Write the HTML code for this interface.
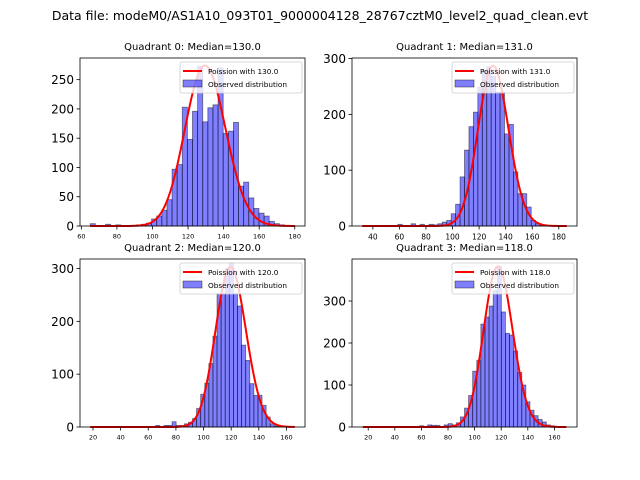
<!DOCTYPE html>
<html><head><meta charset="utf-8"><style>
body{margin:0;background:#fff;}
svg{display:block;font-family:"DejaVu Sans","Liberation Sans",sans-serif;}
</style></head><body>
<svg id="fig" width="640" height="480" viewBox="0 0 640 480">
<rect width="640" height="480" fill="#fff"/>
<text x="320" y="20" font-size="12.5" text-anchor="middle">Data file: modeM0/AS1A10_093T01_9000004128_28767cztM0_level2_quad_clean.evt</text>
</svg>
<script>
const q0Counts=[4,1,0,3,1,2,1,1,1,2,3,5,12,17,27,45,97,105,203,148,196,273,178,202,207,270,158,162,177,68,75,48,30,22,17,8,4,2,1,1];
const q0Range=[65,180];
const q0Mu=130, q0CurvePeak=274;
const q1Counts=[0,0,0,0,0,0,0,0,3,1,1,4,1,3,1,3,2,4,7,10,22,39,88,136,178,204,249,279,285,268,240,240,165,182,97,58,58,34,10,4,2,1,1,0,1,0];
const q1Range=[32,186];
const q1Mu=131, q1CurvePeak=287;
const q2Counts=[0,0,0,0,0,0,0,0,0,0,0,0,0,0,0,0,3,0,3,3,10,3,3,6,9,16,35,62,83,120,172,253,253,300,310,253,229,155,126,82,60,60,41,19,6,2,1,0,0,0];
const q2Range=[18,166];
const q2Mu=120, q2CurvePeak=303;
const q3Counts=[0,0,0,0,0,0,0,0,0,0,0,0,0,0,3,0,5,4,4,0,5,8,5,10,24,45,75,133,159,245,262,288,325,383,274,223,219,181,130,100,60,40,27,18,12,5,3,1,0,0];
const q3Range=[15.5,169.3];
const q3Mu=118, q3CurvePeak=382;
const q0YTicks=[0,50,100,150,200,250], q0XTicks=[60,80,100,120,140,160,180];
const q1YTicks=[0,100,200,300], q1XTicks=[40,60,80,100,120,140,160,180];
const q2YTicks=[0,100,200,300], q2XTicks=[20,40,60,80,100,120,140,160];
const q3YTicks=[0,100,200,300], q3XTicks=[20,40,60,80,100,120,140,160];

const NS="http://www.w3.org/2000/svg";
const svg=document.getElementById('fig');
function mk(tag,attrs,parent){const e=document.createElementNS(NS,tag);for(const k in attrs)e.setAttribute(k,attrs[k]);(parent||svg).appendChild(e);return e;}
function lgamma(x){return (x-0.5)*Math.log(x)-x+0.5*Math.log(2*Math.PI)+1/(12*x)-1/(360*x*x*x);}
function pmf(k,mu){return Math.exp(k*Math.log(mu)-mu-lgamma(k+1));}

function drawPanel(idx,box,counts,range,mu,peak,xticks,yticks,ymax,xfs,title){
  const g=mk('g',{});
  
  
  const R=range[1]-range[0], xmin=range[0]-0.05*R, xmax=range[1]+0.05*R;
  const X=v=>box.l+(v-xmin)/(xmax-xmin)*(box.r-box.l);
  const Y=v=>box.b-v/ymax*(box.b-box.t);
  const bw=R/counts.length;
  counts.forEach((c,i)=>{
    const x0=X(range[0]+i*bw), x1=X(range[0]+(i+1)*bw);
    const r=mk('rect',{x:x0,y:Y(c),width:x1-x0,height:Y(0)-Y(c),fill:'rgba(0,0,255,0.5)',stroke:'rgba(0,0,0,0.5)','stroke-width':0.8},g);
    
    
  });
  let mx=0;const ks=[];
  for(let k=Math.ceil(range[0]);k<=Math.floor(range[1]);k++){const p=pmf(k,mu);ks.push([k,p]);if(p>mx)mx=p;}
  const pts=ks.map(([k,p])=>X(k).toFixed(2)+','+Y(p/mx*peak).toFixed(2)).join(' ');
  const pl=mk('polyline',{points:pts,fill:'none',stroke:'#ff0000','stroke-width':2,'stroke-linejoin':'round'},g);
  
  
  const fr=mk('rect',{x:box.l,y:box.t,width:box.r-box.l,height:box.b-box.t,fill:'none',stroke:'#000','stroke-width':0.8},g);
  
  
  xticks.forEach(v=>{
    mk('line',{x1:X(v),x2:X(v),y1:box.b,y2:box.b+3.5,stroke:'#000','stroke-width':0.8},g);
    const t=mk('text',{x:X(v),y:box.b+6+xfs,'font-size':xfs,'text-anchor':'middle'},g);
    t.textContent=v;
    
    
  });
  yticks.forEach(v=>{
    mk('line',{x1:box.l-3.5,x2:box.l,y1:Y(v),y2:Y(v),stroke:'#000','stroke-width':0.8},g);
    const t=mk('text',{x:box.l-6,y:Y(v)+4.5,'font-size':12,'text-anchor':'end'},g);
    t.textContent=v;
    
    
  });
  const tt=mk('text',{x:(box.l+box.r)/2,y:box.t-8,'font-size':10,'text-anchor':'middle'},g);
  tt.textContent=title;
  
  
  const lg=mk('g',{},g);
  
  
  const lx=box.r-125, ly=box.t+4;
  mk('rect',{x:lx,y:ly,width:122,height:31,fill:'rgba(255,255,255,0.8)',stroke:'#ccc','stroke-width':0.8,rx:2},lg);
  mk('line',{x1:lx+3,x2:lx+22,y1:ly+9,y2:ly+9,stroke:'#ff0000','stroke-width':2},lg);
  mk('rect',{x:lx+3,y:ly+18,width:19,height:7,fill:'rgba(0,0,255,0.5)',stroke:'rgba(0,0,0,0.5)','stroke-width':0.8},lg);
  const t1=mk('text',{x:lx+28,y:ly+12,'font-size':7.3},lg);t1.textContent='Poission with '+mu.toFixed(1);
  
  
  const t2=mk('text',{x:lx+28,y:ly+25,'font-size':7.3},lg);t2.textContent='Observed distribution';
  
  
}
drawPanel(0,{l:80,r:305,t:58,b:226},q0Counts,q0Range,q0Mu,q0CurvePeak,q0XTicks,q0YTicks,287,6.5,'Quadrant 0: Median=130.0');
drawPanel(1,{l:352,r:577,t:58,b:226},q1Counts,q1Range,q1Mu,q1CurvePeak,q1XTicks,q1YTicks,301,7.5,'Quadrant 1: Median=131.0');
drawPanel(2,{l:80,r:305,t:259,b:427},q2Counts,q2Range,q2Mu,q2CurvePeak,q2XTicks,q2YTicks,318,6.5,'Quadrant 2: Median=120.0');
drawPanel(3,{l:352,r:577,t:259,b:427},q3Counts,q3Range,q3Mu,q3CurvePeak,q3XTicks,q3YTicks,400,6.5,'Quadrant 3: Median=118.0');
</script>
</body></html>
